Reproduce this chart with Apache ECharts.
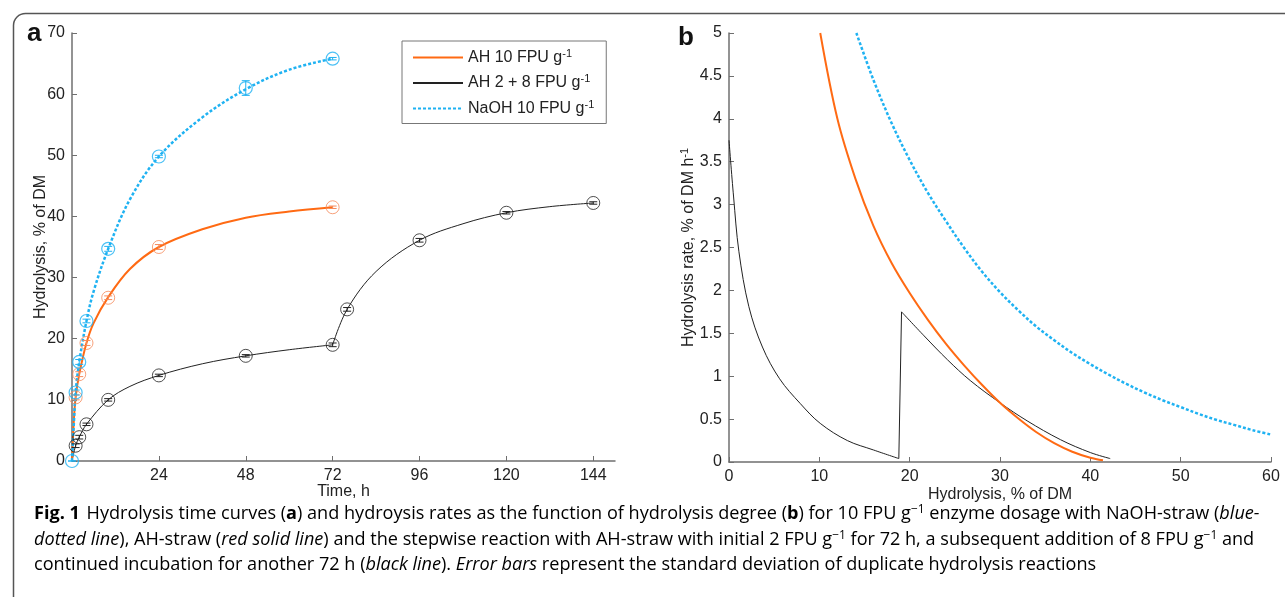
<!DOCTYPE html>
<html>
<head>
<meta charset="utf-8">
<script src="https://cdn.jsdelivr.net/npm/echarts@6.0.0/dist/echarts.min.js"></script>
<style>
  html, body { margin: 0; padding: 0; background: #fff; }
  #chart { width: 1285px; height: 597px; }
</style>
</head>
<body>
<div id="chart"></div>
<script>
// ---- panel a: hydrolysis vs time ----
const timeTicks = [0, 24, 48, 72, 96, 120, 144]
const timeLabels = [24, 48, 72, 96, 120, 144]

// measured points (mean, sd)
const ahTime = [1, 2, 4, 10, 24, 72]
const ahVal = [10.4, 14.2, 19.3, 26.7, 35.0, 41.5]
const ahErr = [0.4, 0.4, 0.4, 0.3, 0.4, 0.2]

const naohTime = [0, 1, 2, 4, 10, 24, 48, 72]
const naohVal = [0, 11.2, 16.2, 22.9, 34.7, 49.8, 61.0, 65.8]
const naohErr = [0, 0.4, 0.4, 0.3, 0.4, 0.2, 1.2, 0.2]

const stepTime = [1, 2, 4, 10, 24, 48, 72, 76, 96, 120, 144]
const stepVal = [2.5, 3.9, 6.0, 10.0, 14.0, 17.2, 19.0, 24.8, 36.1, 40.6, 42.2]
const stepErr = [0.3, 0.3, 0.2, 0.2, 0.2, 0.2, 0.3, 0.3, 0.3, 0.2, 0.2]

// fitted curves
const ahFitT = [0, 0.5, 1, 2, 4, 6, 10, 16, 24, 36, 48, 60, 72]
const ahFitV = [0, 6.5, 10.4, 14.2, 19.3, 22.6, 26.8, 31.4, 35.0, 37.9, 39.8, 40.8, 41.5]
const naohFitT = [0, 0.5, 1, 2, 4, 6, 10, 16, 24, 36, 48, 60, 72]
const naohFitV = [0, 6.0, 11.2, 16.2, 22.9, 27.8, 34.7, 42.8, 49.8, 56.2, 60.8, 64.0, 65.8]
const stepFit1T = [0, 1, 2, 4, 10, 16, 24, 36, 48, 60, 72]
const stepFit1V = [0, 2.5, 3.9, 6.0, 10.0, 12.2, 14.0, 15.9, 17.2, 18.2, 19.0]
const stepFit2T = [72, 76, 84, 96, 108, 120, 132, 144]
const stepFit2V = [19.0, 24.8, 31.0, 36.1, 38.8, 40.6, 41.6, 42.2]

// ---- panel b: rate vs degree of hydrolysis ----
const ahRateX = [10.1, 12, 14, 16, 18, 20, 22, 24, 26, 28, 30, 32, 34, 36, 38, 40, 41.4]
const ahRateY = [5.0, 4.0, 3.3, 2.75, 2.32, 1.97, 1.66, 1.38, 1.13, 0.9, 0.69, 0.51, 0.35, 0.22, 0.12, 0.05, 0.02]
const stepRate1X = [0, 0.5, 1.1, 2.2, 3.7, 5.6, 7.9, 10.1, 13.1, 16.0, 18.8]
const stepRate1Y = [3.75, 3.1, 2.45, 1.81, 1.34, 0.97, 0.68, 0.45, 0.25, 0.14, 0.04]
const stepRate2X = [19.1, 21.6, 24.2, 26.7, 30.0, 33.0, 36.7, 40.0, 42.2]
const stepRate2Y = [1.75, 1.47, 1.19, 0.95, 0.69, 0.48, 0.26, 0.11, 0.04]
const naohRateX = [14.1, 16, 18, 20, 22, 24, 26, 28, 30, 32, 34, 36, 38, 40, 42, 44, 46, 48, 50, 52, 54, 56, 58, 60]
const naohRateY = [5.0, 4.45, 3.95, 3.52, 3.14, 2.81, 2.5, 2.22, 1.98, 1.77, 1.58, 1.42, 1.27, 1.14, 1.02, 0.91, 0.81, 0.72, 0.64, 0.56, 0.49, 0.43, 0.37, 0.32]

const names = ['AH 10 FPU g-1', 'AH 2 + 8 FPU g-1', 'NaOH 10 FPU g-1']

const orange = '#ff6a13'
const orangeMk = '#f5895a'
const blue = '#1fb2f2'
const black = '#222222'
const axisGray = '#6f6f6f'
const font = '"Liberation Sans", Arial, sans-serif'
const capFont = '"Open Sans", "Liberation Sans", sans-serif'

const pairs = (xs, ys) => xs.map((x, i) => [x, ys[i]])
const triples = (xs, ys, es) => xs.map((x, i) => [x, ys[i], es[i]])

const supText = (s) => {
  const m = s.match(/^(.*)-1$/)
  return m ? '{t|' + m[1] + '}{s|-1}' : '{t|' + s + '}'
}

const errorBars = (data, color) => ({
  type: 'custom',
  xAxisIndex: 0,
  yAxisIndex: 0,
  data: data,
  z: 5,
  renderItem: (params, api) => {
    const x = api.value(0), y = api.value(1), e = api.value(2)
    const lo = api.coord([x, y - e])
    const hi = api.coord([x, y + e])
    const cw = 4
    const style = { stroke: color, lineWidth: 1 }
    return {
      type: 'group',
      children: [
        { type: 'line', shape: { x1: lo[0], y1: lo[1], x2: hi[0], y2: hi[1] }, style },
        { type: 'line', shape: { x1: lo[0] - cw, y1: lo[1], x2: lo[0] + cw, y2: lo[1] }, style },
        { type: 'line', shape: { x1: hi[0] - cw, y1: hi[1], x2: hi[0] + cw, y2: hi[1] }, style }
      ]
    }
  }
})

const curve = (name, xi, data, color, width, dotted, z) => ({
  name: name,
  type: 'line',
  xAxisIndex: xi,
  yAxisIndex: xi,
  data: data,
  smooth: 0.35,
  showSymbol: false,
  symbol: 'none',
  lineStyle: { color: color, width: width, type: dotted ? [3, 2] : 'solid' },
  itemStyle: { color: color },
  z: z
})

const axisCommon = {
  nameMoveOverlap: false,
  axisLine: { lineStyle: { color: axisGray, width: 1.5 } },
  axisTick: { inside: true, length: 5, lineStyle: { color: axisGray, width: 1 } },
  axisLabel: { color: '#222', fontSize: 16, fontFamily: font, margin: 7 },
  splitLine: { show: false },
  nameTextStyle: { color: '#222', fontSize: 16, fontFamily: font }
}

const supRich = {
  t: { fontSize: 16, fontFamily: font, color: '#222' },
  s: { fontSize: 11, fontFamily: font, color: '#222', verticalAlign: 'top', padding: [0, 0, 8, 0] }
}

const chart = echarts.init(document.getElementById('chart'), null, { renderer: 'canvas' })

const capRich = {
  n: { fontSize: 18.1, fontFamily: capFont, color: '#222' },
  i: { fontSize: 18.1, fontStyle: 'italic', fontFamily: capFont, color: '#222' },
  b: { fontSize: 18.1, fontWeight: 'bold', fontFamily: capFont, color: '#222' },
  s: { fontSize: 12, fontFamily: capFont, color: '#222', verticalAlign: 'top', padding: [0, 0, 8, 0] }
}

const lastOf = (a) => a[a.length - 1]

const option = {
  animation: false,
  backgroundColor: '#fff',
  grid: [
    { left: 72, top: 33, width: 543, height: 428 },
    { left: 729, top: 33, width: 542, height: 429 }
  ],
  xAxis: [
    Object.assign({}, axisCommon, {
      gridIndex: 0, type: 'value', min: 0, max: 150,
      name: 'Time, h', nameLocation: 'middle', nameGap: 23,
      axisTick: Object.assign({}, axisCommon.axisTick, { customValues: timeTicks }),
      axisLabel: Object.assign({}, axisCommon.axisLabel, { customValues: timeLabels })
    }),
    Object.assign({}, axisCommon, {
      gridIndex: 1, type: 'value', min: 0, max: 60, interval: 10,
      name: 'Hydrolysis, % of DM', nameLocation: 'middle', nameGap: 25
    })
  ],
  yAxis: [
    Object.assign({}, axisCommon, {
      gridIndex: 0, type: 'value', min: 0, max: 70, interval: 10,
      name: 'Hydrolysis, % of DM', nameLocation: 'middle', nameGap: 23
    }),
    Object.assign({}, axisCommon, {
      gridIndex: 1, type: 'value', min: 0, max: 5, interval: 0.5,
      name: '{t|Hydrolysis rate, % of DM h}{s|-1}', nameLocation: 'middle', nameGap: 31,
      nameTextStyle: { color: '#222', fontSize: 16, fontFamily: font, rich: supRich }
    })
  ],
  legend: {
    data: names,
    orient: 'vertical',
    left: 402,
    top: 41,
    width: 205,
    padding: [7, 12, 7, 10],
    itemGap: 8,
    itemWidth: 50,
    itemHeight: 14,
    borderColor: '#777',
    borderWidth: 1,
    itemStyle: { opacity: 0 },
    formatter: supText,
    textStyle: { fontSize: 16, fontFamily: font, color: '#222', rich: supRich }
  },
  graphic: [
    { type: 'rect', left: 11, top: 11, shape: { width: 1320, height: 620, r: 12 }, style: { fill: 'none', stroke: '#555', lineWidth: 1.5 }, silent: true },
    { type: 'text', left: 27, top: 21, style: { text: 'a', font: 'bold 26px ' + font, fill: '#111' } },
    { type: 'text', left: 678, top: 25, style: { text: 'b', font: 'bold 26px ' + font, fill: '#111' } },
    { type: 'text', left: 34, top: 504, style: { text: '{b|Fig. 1}  {n|Hydrolysis time curves (}{b|a}{n|) and hydroysis rates as the function of hydrolysis degree (}{b|b}{n|) for 10 FPU g}{s|\u22121}{n| enzyme dosage with NaOH-straw (}{i|blue-}', rich: capRich } },
    { type: 'text', left: 34, top: 530, style: { text: '{i|dotted line}{n|), AH-straw (}{i|red solid line}{n|) and the stepwise reaction with AH-straw with initial 2 FPU g}{s|\u22121}{n| for 72 h, a subsequent addition of 8 FPU g}{s|\u22121}{n| and}', rich: capRich } },
    { type: 'text', left: 34, top: 556, style: { text: '{n|continued incubation for another 72 h (}{i|black line}{n|). }{i|Error bars}{n| represent the standard deviation of duplicate hydrolysis reactions}', rich: capRich } }
  ],
  series: [
    // panel a fitted curves
    curve(names[1], 0, pairs(stepFit1T, stepFit1V), black, 1, false, 2),
    curve(names[1], 0, pairs(stepFit2T, stepFit2V), black, 1, false, 2),
    curve(names[0], 0, pairs(ahFitT, ahFitV), orange, 2, false, 3),
    curve(names[2], 0, pairs(naohFitT, naohFitV), blue, 2.5, true, 4),
    // measured points
    { type: 'scatter', xAxisIndex: 0, yAxisIndex: 0, data: pairs(stepTime, stepVal), symbol: 'circle', symbolSize: 13, itemStyle: { color: 'transparent', borderColor: black, borderWidth: 1 }, z: 6 },
    { type: 'scatter', xAxisIndex: 0, yAxisIndex: 0, data: pairs(ahTime, ahVal), symbol: 'circle', symbolSize: 13, itemStyle: { color: 'transparent', borderColor: orangeMk, borderWidth: 1 }, z: 6 },
    { type: 'scatter', xAxisIndex: 0, yAxisIndex: 0, data: pairs(naohTime, naohVal), symbol: 'circle', symbolSize: 13, itemStyle: { color: 'transparent', borderColor: blue, borderWidth: 1.2 }, z: 6 },
    errorBars(triples(stepTime, stepVal, stepErr), black),
    errorBars(triples(ahTime, ahVal, ahErr), orangeMk),
    errorBars(triples(naohTime, naohVal, naohErr), blue),
    // panel b rate curves
    curve(names[1], 1, pairs(stepRate1X, stepRate1Y), black, 1, false, 2),
    { name: names[1], type: 'line', xAxisIndex: 1, yAxisIndex: 1, symbol: 'none', showSymbol: false,
      data: [[lastOf(stepRate1X), lastOf(stepRate1Y)], [stepRate2X[0], stepRate2Y[0]]],
      lineStyle: { color: black, width: 1 }, z: 2 },
    curve(names[1], 1, pairs(stepRate2X, stepRate2Y), black, 1, false, 2),
    curve(names[0], 1, pairs(ahRateX, ahRateY), orange, 2, false, 3),
    curve(names[2], 1, pairs(naohRateX, naohRateY), blue, 2.5, true, 4)
  ]
}

chart.setOption(option)
</script>
</body>
</html>
